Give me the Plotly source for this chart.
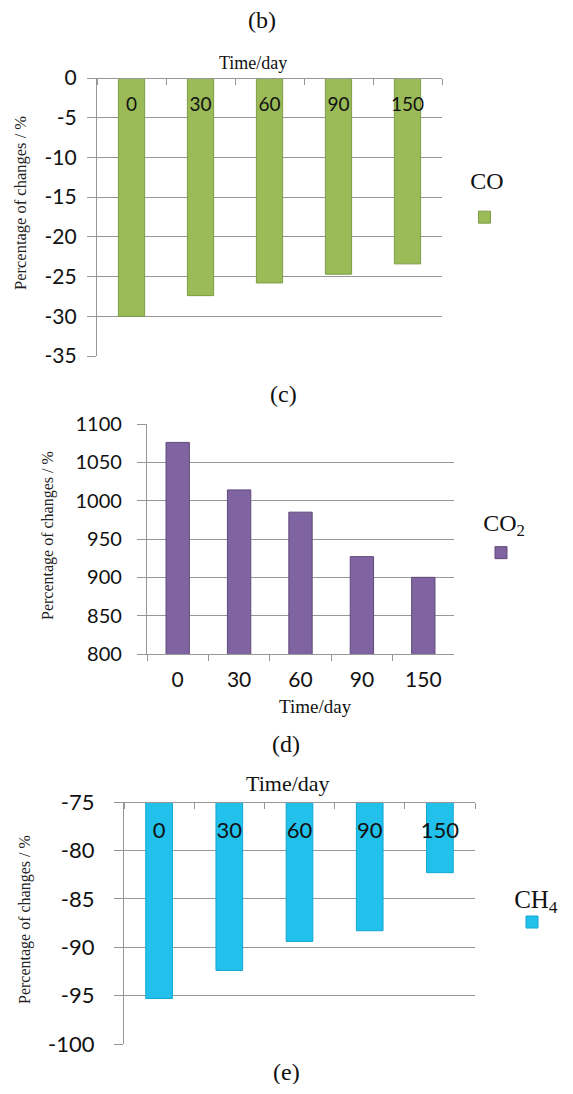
import plotly.graph_objects as go

# page body has an 8px margin: keep the figure inside the viewport
OFF = 8
W, H = 557, 1076

days = ["0", "30", "60", "90", "150"]
co_vals = [-30.0, -27.4, -25.8, -24.7, -23.4]
co2_vals = [1076, 1014, 985, 927, 900]
ch4_vals = [-95.3, -92.4, -89.4, -88.3, -82.3]

co_ticks = [0, -5, -10, -15, -20, -25, -30, -35]
co_ticktext = ["0", "-5", "-10", "-15", "-20", "-25", "-30", "-35"]
co2_ticks = [1100, 1050, 1000, 950, 900, 850, 800]
co2_ticktext = ["1100", "1050", "1000", "950", "900", "850", "800"]
ch4_ticks = [-75, -80, -85, -90, -95, -100]
ch4_ticktext = ["-75", "-80", "-85", "-90", "-95", "-100"]

GRID = "#979797"
SANS = "Lato"
SERIF = "Liberation Serif"


def px_x(x):
    return (x - OFF) / W


def px_y(y):
    return 1 - (y - OFF) / H


fig = go.Figure()

fig.add_trace(go.Bar(x=days, y=co_vals, name="", xaxis="x", yaxis="y",
                     marker=dict(color="#9BBB59", line=dict(color="#7E9C44", width=1)),
                     legend="legend", showlegend=True))
fig.add_trace(go.Bar(x=days, y=co2_vals, name="", xaxis="x2", yaxis="y2",
                     marker=dict(color="#8064A2", line=dict(color="#5E4A7A", width=1)),
                     legend="legend2", showlegend=True))
fig.add_trace(go.Bar(x=days, y=ch4_vals, name="", xaxis="x3", yaxis="y3",
                     marker=dict(color="#22C1EC", line=dict(color="#12A6D2", width=1)),
                     legend="legend3", showlegend=True))

common_y = dict(showgrid=True, gridcolor=GRID, gridwidth=1.3, showline=True,
                linecolor=GRID, linewidth=1.3, ticks="outside", ticklen=9,
                tickcolor=GRID, tickwidth=1.3, zeroline=False, automargin=False)
common_x = dict(type="category", showline=True, linecolor=GRID, linewidth=1.3,
                tickcolor=GRID, tickwidth=1.3, ticklen=6, tickson="boundaries",
                showgrid=False, range=[-0.5, 4.5], side="bottom", ticks="outside",
                automargin=False)

fig.update_layout(
    width=W, height=H,
    margin=dict(l=0, r=0, t=0, b=0, autoexpand=False),
    paper_bgcolor="white", plot_bgcolor="white",
    bargap=0.62,
    xaxis=dict(common_x, domain=[px_x(97), px_x(442)], anchor="free", position=px_y(78),
               ticklabelstandoff=9,
               tickfont=dict(family=SANS, size=19, color="#111")),
    yaxis=dict(common_y, domain=[px_y(356), px_y(78)], anchor="x", range=[-35, 0],
               tickvals=co_ticks, ticktext=co_ticktext, ticklabelstandoff=6,
               tickfont=dict(family=SANS, size=21, color="#111")),
    xaxis2=dict(common_x, domain=[px_x(147), px_x(454)], anchor="y2",
                ticklabelstandoff=7,
                tickfont=dict(family=SANS, size=21, color="#111")),
    yaxis2=dict(common_y, domain=[px_y(654), px_y(424)], anchor="x2", range=[800, 1100],
                tickvals=co2_ticks, ticktext=co2_ticktext, ticklabelstandoff=11,
                tickfont=dict(family=SANS, size=20, color="#111")),
    xaxis3=dict(common_x, domain=[px_x(124), px_x(475)], anchor="free", position=px_y(802),
                ticklabelstandoff=8,
                tickfont=dict(family=SANS, size=22, color="#111")),
    yaxis3=dict(common_y, domain=[px_y(1044), px_y(802)], anchor="x3", range=[-100, -75],
                tickvals=ch4_ticks, ticktext=ch4_ticktext, ticklabelstandoff=15,
                tickfont=dict(family=SANS, size=22, color="#111")),
    legend=dict(x=px_x(487), y=px_y(158), xanchor="center", yanchor="top",
                bgcolor="rgba(0,0,0,0)", itemwidth=30, font=dict(size=33),
                title=dict(text="CO", side="top center", font=dict(family=SERIF, size=24, color="#111"))),
    legend2=dict(x=px_x(504), y=px_y(500), xanchor="center", yanchor="top",
                 bgcolor="rgba(0,0,0,0)", itemwidth=30, font=dict(size=23),
                 title=dict(text="CO<sub>2</sub>", side="top center", font=dict(family=SERIF, size=24, color="#111"))),
    legend3=dict(x=px_x(536), y=px_y(875), xanchor="center", yanchor="top",
                 bgcolor="rgba(0,0,0,0)", itemwidth=30, font=dict(size=12),
                 title=dict(text="CH<sub>4</sub>", side="top center", font=dict(family=SERIF, size=25, color="#111"))),
)

annots = [
    ("(b)", 262, 20, 24, 0),
    ("(c)", 283, 394, 24, 0),
    ("(d)", 286, 744, 24, 0),
    ("(e)", 286, 1072, 24, 0),
    ("Time/day", 253, 63, 18, 0),
    ("Time/day", 315, 706, 19, 0),
    ("Time/day", 288, 783, 22, 0),
    ("Percentage of changes / %", 20, 203, 16.5, -90),
    ("Percentage of changes / %", 48, 536, 16, -90),
    ("Percentage of changes / %", 25, 920, 16, -90),
]
for text, x, y, size, ang in annots:
    fig.add_annotation(text=text, x=px_x(x), y=px_y(y), xref="paper", yref="paper",
                       xanchor="center", yanchor="middle", showarrow=False, textangle=ang,
                       font=dict(family=SERIF, size=size, color="#222" if ang else "#111"))

fig.write_html("out.html")
